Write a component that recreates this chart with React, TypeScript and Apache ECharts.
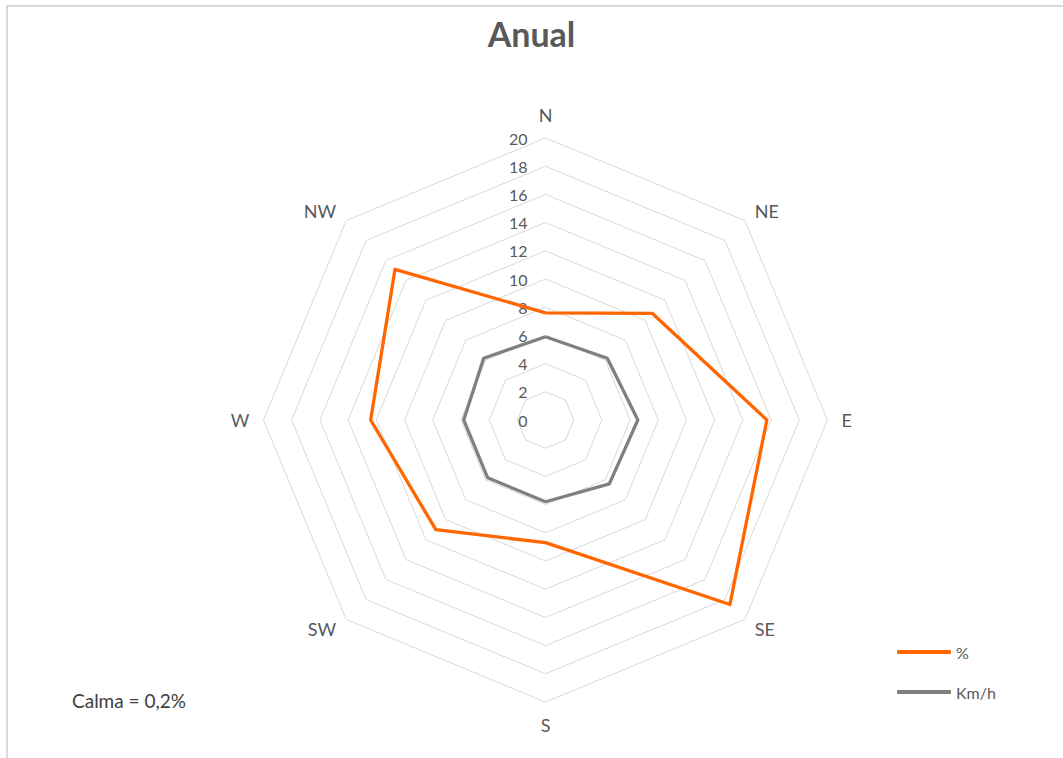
import React, { useEffect, useRef } from "react";
import * as echarts from "echarts";

const directions = ["N", "NE", "E", "SE", "S", "SW", "W", "NW"];
const percentValues = [7.6, 10.7, 15.7, 18.5, 8.7, 11.0, 12.4, 15.1];
const speedValues = [5.9, 6.2, 6.55, 6.4, 5.8, 5.8, 5.8, 6.2];
const seriesNames = ["%", "Km/h"];
const axisMax = 20;
const axisSplits = 10;
const calmaText = "Calma = 0,2%";
const titleText = "Anual";

// ECharts radar runs counter-clockwise; reorder compass data accordingly
const order = [0, 7, 6, 5, 4, 3, 2, 1];

const FONT = "Lato, 'Noto Sans', sans-serif";

export default function App() {
  const ref = useRef<HTMLDivElement>(null);
  useEffect(() => {
    if (!ref.current) return;
    const chart = echarts.init(ref.current, undefined, { renderer: "svg" });
    const indicator = order.map((i, k) => {
      const ind: any = { name: directions[i], max: axisMax, min: 0 };
      if (k === 0) ind.axisLabel = { show: true };
      return ind;
    });
    chart.setOption({
      animation: false,
      backgroundColor: "#ffffff",
      textStyle: { fontFamily: FONT },
      title: {
        text: titleText,
        left: "center",
        top: 11,
        textStyle: { fontSize: 34, fontWeight: "bold", color: "#595959", fontFamily: FONT },
      },
      legend: {
        orient: "vertical",
        left: 892,
        top: 639,
        itemWidth: 54,
        itemHeight: 4,
        itemGap: 24,
        icon: "roundRect",
        textStyle: { fontSize: 16, color: "#595959", fontFamily: FONT },
        data: seriesNames,
      },
      radar: {
        center: [545.5, 420],
        radius: 282,
        startAngle: 90,
        shape: "polygon",
        splitNumber: axisSplits,
        nameGap: 14,
        axisName: { color: "#595959", fontSize: 18, fontFamily: FONT },
        axisLine: { show: false },
        axisTick: { show: false },
        axisLabel: { show: false, color: "#595959", fontSize: 16, margin: 18, fontFamily: FONT },
        splitLine: { lineStyle: { color: "#d9d9d9", width: 1 } },
        splitArea: { show: false },
        indicator,
      },
      series: [
        {
          type: "radar",
          symbol: "none",
          data: [
            {
              name: seriesNames[0],
              value: order.map((i) => percentValues[i]),
              lineStyle: { color: "#ff6600", width: 3.3 },
              itemStyle: { color: "#ff6600" },
            },
            {
              name: seriesNames[1],
              value: order.map((i) => speedValues[i]),
              lineStyle: { color: "#808080", width: 3.3 },
              itemStyle: { color: "#808080" },
            },
          ],
        },
      ],
      graphic: [
        {
          type: "rect",
          shape: { x: 7, y: 6, width: 1100, height: 800 },
          style: { fill: "none", stroke: "#d9d9d9", lineWidth: 2 },
          silent: true,
        },
        {
          type: "text",
          left: 72,
          top: 691,
          style: { text: calmaText, fontSize: 19, fill: "#404040", fontFamily: FONT },
        },
      ],
    });
    return () => chart.dispose();
  }, []);
  return (
    <div
      ref={ref}
      style={{ position: "absolute", left: 0, top: 0, width: 1063, height: 758 }}
    />
  );
}
